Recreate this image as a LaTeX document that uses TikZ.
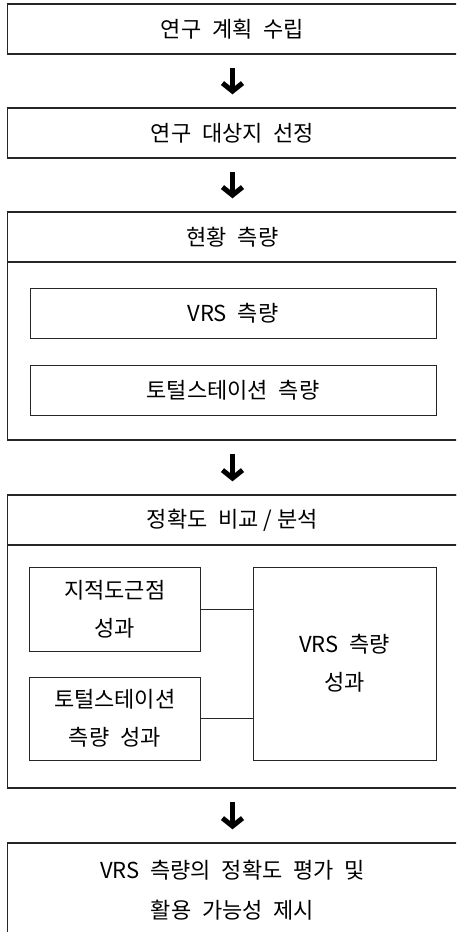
\documentclass[tikz,border=0pt]{standalone}
\usepackage{fontspec}
\setmainfont[WordSpace=2.2]{Noto Sans CJK KR}
\usetikzlibrary{arrows.meta}
\begin{document}
\begin{tikzpicture}[x=1pt,y=-1pt,
  box/.style={draw=black!85, line width=1.4pt, rectangle, inner sep=0pt, align=center,
    font=\fontsize{22}{40}\selectfont},
  subbox/.style={draw=black!85, line width=1pt, rectangle, inner sep=0pt, align=center,
    font=\fontsize{22}{38}\selectfont},
  bigarrow/.style={line width=5pt, -{Straight Barb[length=8pt,width=20pt]},
    shorten <=13.5pt, shorten >=13pt},
  link/.style={line width=1pt, draw=black!85}]
\useasboundingbox (0,0) rectangle (456,932);
\clip (0,0) rectangle (456,932);
% outer frames (right side runs off the page)
\node[box, minimum width=473pt, minimum height=50pt, anchor=west] (b1) at (7,29) {};
\node[box, minimum width=473pt, minimum height=50pt, anchor=west] (b2) at (7,133) {};
\node[box, minimum width=473pt, minimum height=228pt, anchor=west] (b3) at (7,326) {};
\node[box, minimum width=473pt, minimum height=50pt, anchor=west] (b3h) at (7,237) {};
\node[box, minimum width=473pt, minimum height=293pt, anchor=west] (b4) at (7,641.5) {};
\node[box, minimum width=473pt, minimum height=50pt, anchor=west] (b4h) at (7,520) {};
\node[box, minimum width=473pt, minimum height=97pt, anchor=west] (b5) at (7,891.5) {};
% texts of the outer frames, centred on the visible box
\node[box, draw=none] (t1) at (232.5,29) {연구 계획 수립};
\node[box, draw=none] (t2) at (232.5,133) {연구 대상지 선정};
\node[box, draw=none] (t3) at (232.5,237) {현황 측량};
\node[box, draw=none] (t4) at (232.5,520) {정확도 비교\kern5pt/\kern5pt분석};
\node[box, draw=none] (t5) at (232.5,890) {VRS 측량의 정확도 평가 및\\활용 가능성 제시};
% inner boxes
\node[subbox, minimum width=406pt, minimum height=50pt] (vrs1) at (233,313) {VRS 측량};
\node[subbox, minimum width=406pt, minimum height=50pt] (tot1) at (233,390) {토털스테이션 측량};
\node[subbox, minimum width=170.5pt, minimum height=84pt] (jj) at (114.75,609) {지적도근점\\성과};
\node[subbox, minimum width=170.5pt, minimum height=83pt] (tt) at (114.75,718.5) {토털스테이션\\측량 성과};
\node[subbox, minimum width=183pt, minimum height=193pt] (vr) at (344.5,663.5) {VRS 측량\\성과};
\draw[link] (jj.east) -- (vr.west |- jj.east);
\draw[link] (tt.east) -- (vr.west |- tt.east);
% arrows
\draw[bigarrow] (t1 |- b1.south) -- (t1 |- b2.north);
\draw[bigarrow] (t1 |- b2.south) -- (t1 |- b3.north);
\draw[bigarrow] (t1 |- b3.south) -- (t1 |- b4.north);
\draw[bigarrow] (t1 |- b4.south) -- (t1 |- b5.north);
\end{tikzpicture}
\end{document}
